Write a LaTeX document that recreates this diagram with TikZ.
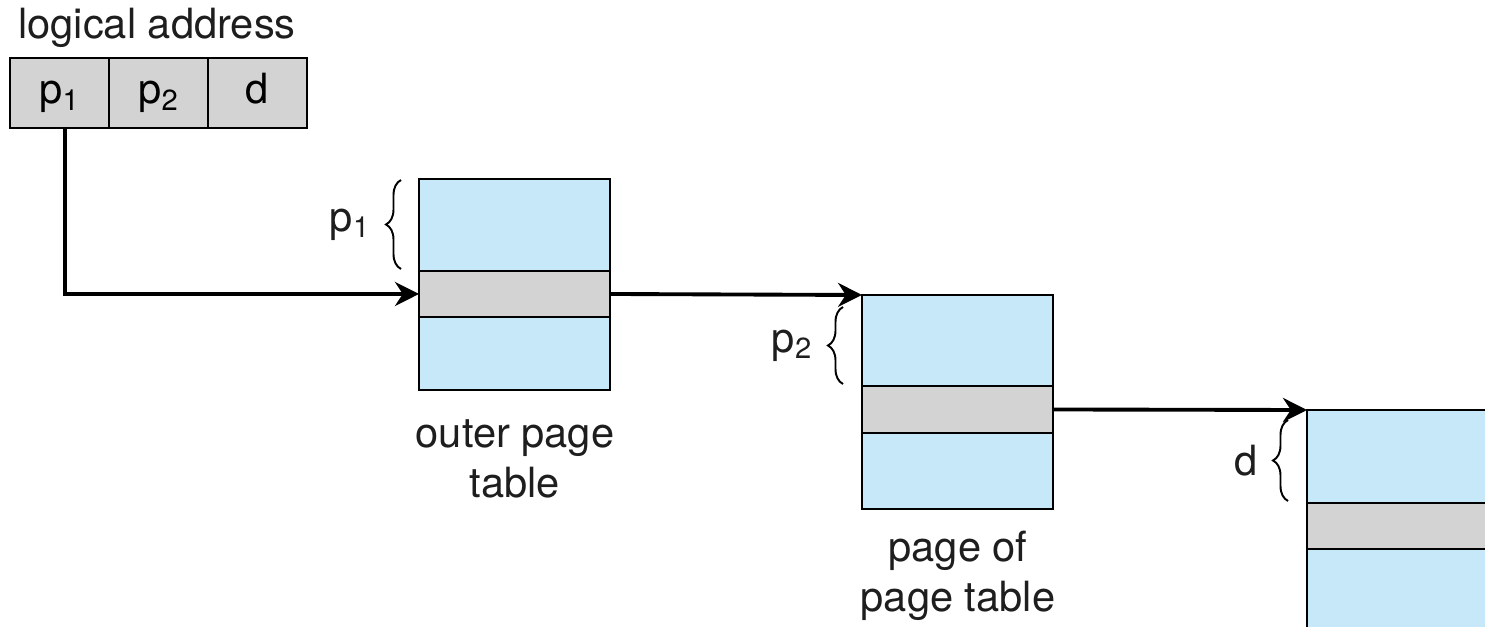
\documentclass[tikz,border=0pt]{standalone}
\usepackage{fontspec}
\setmainfont{TeX Gyre Heros}
\usetikzlibrary{positioning,arrows.meta,calc,decorations.pathreplacing}
\definecolor{azul}{RGB}{198,232,248}
\definecolor{gris}{RGB}{211,211,211}
\definecolor{tinta}{RGB}{30,30,30}

\begin{document}
\begin{tikzpicture}[x=0.02cm,y=-0.02cm]

	\tikzstyle{campo} = [rectangle,draw=black,line width=1.2pt,fill=gris,minimum width=1.98cm,minimum height=1.4cm,inner sep=0pt,outer sep=0pt,text height=0.72em,text depth=0.21em]
	\tikzstyle{entrada} = [rectangle,draw=black,line width=1.2pt,fill=azul,minimum width=3.82cm,inner sep=0pt,outer sep=0pt]
	\tikzstyle{elegida} = [entrada,fill=gris]
	\tikzstyle{etiqueta} = [text=tinta,align=center]
	\tikzstyle{llave} = [decorate,decoration={brace,amplitude=0.3cm},line width=1.1pt]
	\tikzstyle{flecha} = [-{Stealth[length=0.48cm,width=0.48cm]},line width=2.2pt]

	\useasboundingbox (0,0) rectangle (1485,626);
	\clip (0,0) rectangle (1485,626);
	\fontsize{23.7}{28.4}\selectfont

	% logical address
	\node[campo,anchor=north west] (a1) at (10,58) {p\textsubscript{1}};
	\node[campo,right=0pt of a1] (a2) {p\textsubscript{2}};
	\node[campo,right=0pt of a2] (a3) {d};
	\node[etiqueta] (la) at (157,28) {logical address};

	% outer page table
	\node[entrada,minimum height=1.84cm,anchor=north west] (ot1) at (419,179) {};
	\node[elegida,minimum height=0.92cm,below=0pt of ot1] (ot2) {};
	\node[entrada,minimum height=1.46cm,below=0pt of ot2] (ot3) {};
	\node[etiqueta] (otl) at (515,459) {outer page\\table};

	% page of page table
	\node[entrada,minimum height=1.82cm,anchor=north west] (pt1) at (862,295) {};
	\node[elegida,minimum height=0.94cm,below=0pt of pt1] (pt2) {};
	\node[entrada,minimum height=1.52cm,below=0pt of pt2] (pt3) {};
	\node[etiqueta] (ptl) at (958,576) {page of\\page table};

	% page
	\node[entrada,minimum width=4cm,minimum height=1.86cm,anchor=north west] (pg1) at (1307,410) {};
	\node[elegida,minimum width=4cm,minimum height=0.92cm,below=0pt of pg1] (pg2) {};
	\node[entrada,minimum width=4cm,minimum height=2cm,below=0pt of pg2] (pg3) {};

	% braces
	\draw[llave] ($(ot1.south west)+(-18,-2)$) -- node[etiqueta,midway,left=0.32cm] (b1) {p\textsubscript{1}} ($(ot1.north west)+(-18,1)$);
	\draw[llave] ($(pt1.south west)+(-19,-2)$) -- node[etiqueta,midway,left=0.32cm] (b2) {p\textsubscript{2}} ($(pt1.north west)+(-19,12)$);
	\draw[llave] ($(pg1.south west)+(-19,-2)$) -- node[etiqueta,midway,left=0.32cm] (b3) {d} ($(pg1.north west)+(-19,10)$);

	% arrows
	\draw[flecha] ([xshift=3]a1.south) |- (ot2.west);
	\draw[flecha] (ot2.east) -- (pt1.north west);
	\draw[flecha] (pt2.east) -- (pg1.north west);

\end{tikzpicture}
\end{document}
